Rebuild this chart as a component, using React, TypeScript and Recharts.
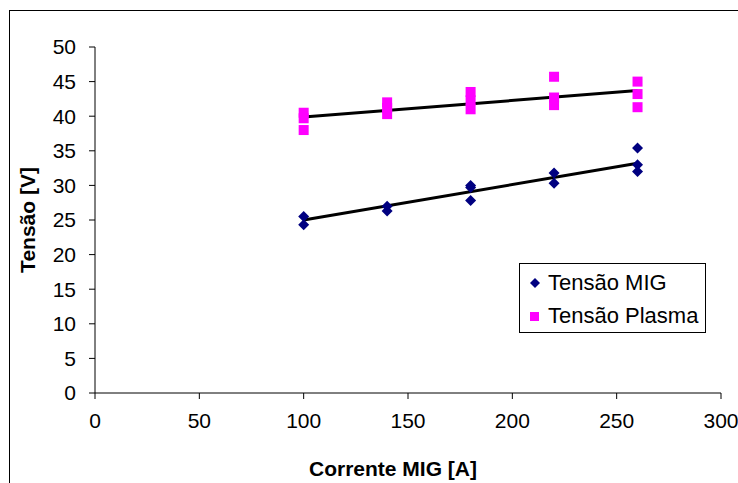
import { ScatterChart, Scatter, XAxis, YAxis, Label } from "recharts";

const migCurrent = [100, 100, 140, 140, 180, 180, 180, 220, 220, 260, 260, 260];
const migVoltage = [25.5, 24.3, 27.0, 26.3, 30.0, 29.7, 27.8, 31.8, 30.3, 35.4, 33.0, 32.0];

const plasmaCurrent = [100, 100, 100, 140, 140, 140, 180, 180, 180, 220, 220, 220, 260, 260, 260];
const plasmaVoltage = [40.5, 39.7, 38.0, 42.0, 41.2, 40.3, 43.5, 42.3, 41.0, 45.7, 42.7, 41.6, 45.0, 43.2, 41.3];

// trendline end points as drawn in the source
const trendCurrent = [100, 260];
const migTrend = [25.0, 33.2];
const plasmaTrend = [39.9, 43.7];

const xTicks = [0, 50, 100, 150, 200, 250, 300];
const yTicks = [0, 5, 10, 15, 20, 25, 30, 35, 40, 45, 50];

const migData = migCurrent.map((x, i) => ({ x, y: migVoltage[i] }));
const plasmaData = plasmaCurrent.map((x, i) => ({ x, y: plasmaVoltage[i] }));
const migTrendData = trendCurrent.map((x, i) => ({ x, y: migTrend[i] }));
const plasmaTrendData = trendCurrent.map((x, i) => ({ x, y: plasmaTrend[i] }));

const NAVY = "#000080";
const MAGENTA = "#FF00FF";
const FONT = "'Liberation Sans', Arial, sans-serif";

const Diamond = (props: any) => {
  const { cx, cy } = props;
  const r = 5.5;
  return <polygon points={`${cx},${cy - r} ${cx + r},${cy} ${cx},${cy + r} ${cx - r},${cy}`} fill={NAVY} />;
};

const Square = (props: any) => {
  const { cx, cy } = props;
  return <rect x={cx - 5} y={cy - 5} width={10} height={10} fill={MAGENTA} />;
};

const NoDot = () => <g />;

const LegendBox = () => (
  <div
    style={{
      position: "absolute",
      left: 519,
      top: 263,
      width: 185,
      height: 68,
      border: "1px solid #000",
      background: "#fff",
      fontFamily: FONT,
      fontSize: 22,
      color: "#000",
    }}
  >
    <div style={{ display: "flex", alignItems: "center", height: 34, marginTop: 2 }}>
      <svg width={28} height={20}>
        <polygon points="15,5 20,10 15,15 10,10" fill={NAVY} />
      </svg>
      <span>Tensão MIG</span>
    </div>
    <div style={{ display: "flex", alignItems: "center", height: 32 }}>
      <svg width={28} height={20}>
        <rect x={10} y={6} width={9} height={9} fill={MAGENTA} />
      </svg>
      <span>Tensão Plasma</span>
    </div>
  </div>
);

export default function App() {
  return (
    <div
      style={{
        position: "fixed",
        left: 0,
        top: 0,
        width: 738,
        height: 483,
        overflow: "hidden",
        background: "#fff",
      }}
    >
      <div
        style={{
          position: "absolute",
          left: 9,
          top: 10,
          width: 800,
          height: 600,
          border: "1px solid #000",
        }}
      />
      <div style={{ position: "absolute", left: 0, top: 0 }}>
        <ScatterChart width={738} height={483} margin={{ top: 47, right: 17, bottom: 0, left: 0 }}>
          <XAxis
            type="number"
            dataKey="x"
            domain={[0, 300]}
            ticks={xTicks}
            interval={0}
            height={90}
            axisLine={{ stroke: "#000" }}
            tickLine={{ stroke: "#000" }}
            tickSize={6}
            tickMargin={14}
            tick={{ fill: "#000", fontSize: 21, fontFamily: FONT }}
          >
            <Label
              content={() => (
                <text
                  x={393}
                  y={476}
                  textAnchor="middle"
                  fontFamily={FONT}
                  fontSize={21}
                  fontWeight="bold"
                  fill="#000"
                >
                  Corrente MIG [A]
                </text>
              )}
            />
          </XAxis>
          <YAxis
            type="number"
            dataKey="y"
            domain={[0, 50]}
            ticks={yTicks}
            interval={0}
            width={95}
            axisLine={{ stroke: "#000" }}
            tickLine={{ stroke: "#000" }}
            tickSize={6}
            tickMargin={13}
            tick={{ fill: "#000", fontSize: 21, fontFamily: FONT }}
          >
            <Label
              content={() => (
                <text
                  x={35}
                  y={220}
                  transform="rotate(-90 35 220)"
                  textAnchor="middle"
                  fontFamily={FONT}
                  fontSize={21}
                  fontWeight="bold"
                  fill="#000"
                >
                  Tensão [V]
                </text>
              )}
            />
          </YAxis>
          <Scatter
            name="Tendência MIG"
            data={migTrendData}
            line={{ stroke: "#000", strokeWidth: 3 }}
            shape={NoDot}
            legendType="none"
            isAnimationActive={false}
          />
          <Scatter
            name="Tendência Plasma"
            data={plasmaTrendData}
            line={{ stroke: "#000", strokeWidth: 3 }}
            shape={NoDot}
            legendType="none"
            isAnimationActive={false}
          />
          <Scatter name="Tensão MIG" data={migData} fill={NAVY} shape={Diamond} isAnimationActive={false} />
          <Scatter name="Tensão Plasma" data={plasmaData} fill={MAGENTA} shape={Square} isAnimationActive={false} />
        </ScatterChart>
      </div>
      <LegendBox />
    </div>
  );
}
